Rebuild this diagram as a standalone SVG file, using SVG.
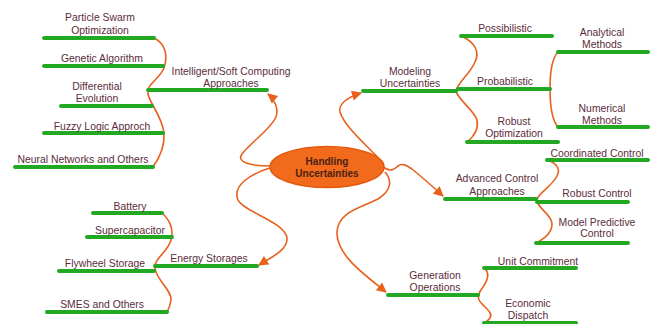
<svg xmlns="http://www.w3.org/2000/svg" width="656" height="324" viewBox="0 0 656 324">
  <defs>
    <style>
      .bar { stroke: #22a823; stroke-width: 4; stroke-linecap: round; fill: none; }
      .link { stroke: #e8601c; stroke-width: 1.6; fill: none; }
      .lbl { font-family: "Liberation Sans", Arial, sans-serif; font-size: 10.4px; fill: #5b2c3a; text-anchor: middle; }
      .hub { font-family: "Liberation Sans", Arial, sans-serif; font-size: 10px; font-weight: bold; fill: #4a1f12; text-anchor: middle; }
    </style>
    <marker id="arrow" viewBox="0 0 10 10" refX="9" refY="5" markerWidth="12" markerHeight="10" markerUnits="userSpaceOnUse" orient="auto">
      <path d="M0,0 L10,5 L0,10 Z" fill="#e8601c"/>
    </marker>
  </defs>
  <rect width="656" height="324" fill="#ffffff"/>

  <!-- connectors -->
  <g id="connectors">
    <!-- hub to main branches -->
    <path class="link" marker-end="url(#arrow)" d="M270,166 C250,166 236,162 242,154 C250,143 270,130 276,117 C279,108 274,99 268,94"/>
    <path class="link" marker-end="url(#arrow)" d="M270,168 C250,174 232,186 238,200 C244,212 285,222 287,238 C288,250 270,258 259,265"/>
    <path class="link" marker-end="url(#arrow)" d="M383,163 C370,148 345,128 340,112 C338,104 348,97 361,93"/>
    <path class="link" marker-end="url(#arrow)" d="M383,167 C390,172 394,170 398,166 C402,163 406,165 412,169 C422,177 432,186 443,196"/>
    <path class="link" marker-end="url(#arrow)" d="M385,172 C392,180 392,190 378,199 C360,208 338,212 337,232 C336,255 365,275 386,292"/>
    <!-- branch to leaves -->
    <path class="link" d="M154,38 C166,44 168,56 164,68 C159,80 146,84 148,94 C150,104 162,116 164,133 C165,148 158,160 153,167"/>
    <path class="link" d="M162,213 C170,220 174,230 171,240 C168,252 154,258 155,268 C156,280 172,290 171,300 C170,307 168,310 167,312"/>
    <path class="link" d="M461,36 C475,42 480,52 475,62 C470,74 458,82 456,91 C458,100 474,110 477,120 C479,130 472,138 467,142"/>
    <path class="link" d="M558,52 C552,58 550,70 550,89 C550,108 552,120 558,127"/>
    <path class="link" d="M547,160 C556,163 561,168 557,176 C552,186 540,192 537,199 C536,208 552,214 552,224 C552,234 542,240 536,243"/>
    <path class="link" d="M484,268 C490,272 488,280 483,287 C479,292 477,296 479,300 C482,306 494,312 490,318 C488,321 486,322 484,323"/>
  </g>

  <!-- hub -->
  <g id="hub">
    <ellipse cx="327" cy="167" rx="57" ry="20.5" fill="#f26b1d" stroke="#e35a0e" stroke-width="1.5"/>
    <text class="hub" x="327" y="165">Handling</text>
    <text class="hub" x="327" y="177">Uncertainties</text>
  </g>

  <!-- intelligent / soft computing branch -->
  <g id="intelligent">
    <line class="bar" x1="148" y1="90" x2="267" y2="90"/>
    <text class="lbl" x="231" y="74.5">Intelligent/Soft Computing</text>
    <text class="lbl" x="231" y="86.5">Approaches</text>
  </g>
  <g id="pso">
    <line class="bar" x1="44" y1="38" x2="154" y2="38"/>
    <text class="lbl" x="100" y="20.5">Particle Swarm</text>
    <text class="lbl" x="100" y="33.5">Optimization</text>
  </g>
  <g id="ga">
    <line class="bar" x1="44" y1="66" x2="163" y2="66"/>
    <text class="lbl" x="102" y="61.5">Genetic Algorithm</text>
  </g>
  <g id="de">
    <line class="bar" x1="61" y1="106" x2="152" y2="106"/>
    <text class="lbl" x="97" y="89.5">Differential</text>
    <text class="lbl" x="97" y="102">Evolution</text>
  </g>
  <g id="fuzzy">
    <line class="bar" x1="44" y1="133" x2="163" y2="133"/>
    <text class="lbl" x="102" y="129.5">Fuzzy Logic Approch</text>
  </g>
  <g id="neural">
    <line class="bar" x1="15" y1="167" x2="153" y2="167"/>
    <text class="lbl" x="83" y="162.5">Neural Networks and Others</text>
  </g>

  <!-- energy storage branch -->
  <g id="energy">
    <line class="bar" x1="155" y1="266" x2="257" y2="266"/>
    <text class="lbl" x="209" y="261.5">Energy Storages</text>
  </g>
  <g id="battery">
    <line class="bar" x1="93" y1="213" x2="162" y2="213"/>
    <text class="lbl" x="130" y="209.5">Battery</text>
  </g>
  <g id="supercap">
    <line class="bar" x1="87" y1="237" x2="172" y2="237"/>
    <text class="lbl" x="130" y="233.5">Supercapacitor</text>
  </g>
  <g id="flywheel">
    <line class="bar" x1="59" y1="271" x2="154" y2="271"/>
    <text class="lbl" x="105" y="266.5">Flywheel Storage</text>
  </g>
  <g id="smes">
    <line class="bar" x1="47" y1="312" x2="167" y2="312"/>
    <text class="lbl" x="102" y="307.5">SMES and Others</text>
  </g>

  <!-- modeling branch -->
  <g id="modeling">
    <line class="bar" x1="363" y1="91" x2="456" y2="91"/>
    <text class="lbl" x="410" y="74.5">Modeling</text>
    <text class="lbl" x="410" y="86.5">Uncertainties</text>
  </g>
  <g id="possibilistic">
    <line class="bar" x1="461" y1="36" x2="552" y2="36"/>
    <text class="lbl" x="505" y="31.5">Possibilistic</text>
  </g>
  <g id="probabilistic">
    <line class="bar" x1="458" y1="89" x2="550" y2="89"/>
    <text class="lbl" x="505" y="84.5">Probabilistic</text>
  </g>
  <g id="robust-opt">
    <line class="bar" x1="467" y1="142" x2="558" y2="142"/>
    <text class="lbl" x="514" y="124.5">Robust</text>
    <text class="lbl" x="514" y="136.5">Optimization</text>
  </g>
  <g id="analytical">
    <line class="bar" x1="558" y1="52" x2="648" y2="52"/>
    <text class="lbl" x="602" y="35.5">Analytical</text>
    <text class="lbl" x="602" y="47.5">Methods</text>
  </g>
  <g id="numerical">
    <line class="bar" x1="558" y1="127" x2="648" y2="127"/>
    <text class="lbl" x="602" y="111.5">Numerical</text>
    <text class="lbl" x="602" y="123.5">Methods</text>
  </g>

  <!-- advanced control branch -->
  <g id="advanced">
    <line class="bar" x1="445" y1="199" x2="536" y2="199"/>
    <text class="lbl" x="497" y="181.5">Advanced Control</text>
    <text class="lbl" x="497" y="194.5">Approaches</text>
  </g>
  <g id="coordinated">
    <line class="bar" x1="547" y1="160" x2="648" y2="160"/>
    <text class="lbl" x="597" y="157">Coordinated Control</text>
  </g>
  <g id="robust-control">
    <line class="bar" x1="537" y1="202" x2="628" y2="202"/>
    <text class="lbl" x="597" y="196.5">Robust Control</text>
  </g>
  <g id="mpc">
    <line class="bar" x1="536" y1="243" x2="628" y2="243"/>
    <text class="lbl" x="597" y="225.5">Model Predictive</text>
    <text class="lbl" x="597" y="237">Control</text>
  </g>

  <!-- generation operations branch -->
  <g id="generation">
    <line class="bar" x1="388" y1="295" x2="478" y2="295"/>
    <text class="lbl" x="435" y="278.5">Generation</text>
    <text class="lbl" x="435" y="290.5">Operations</text>
  </g>
  <g id="unit-commitment">
    <line class="bar" x1="484" y1="268" x2="576" y2="268"/>
    <text class="lbl" x="538" y="264.5">Unit Commitment</text>
  </g>
  <g id="dispatch">
    <line class="bar" x1="484" y1="323" x2="576" y2="323"/>
    <text class="lbl" x="528" y="306.5">Economic</text>
    <text class="lbl" x="528" y="318.5">Dispatch</text>
  </g>
</svg>
